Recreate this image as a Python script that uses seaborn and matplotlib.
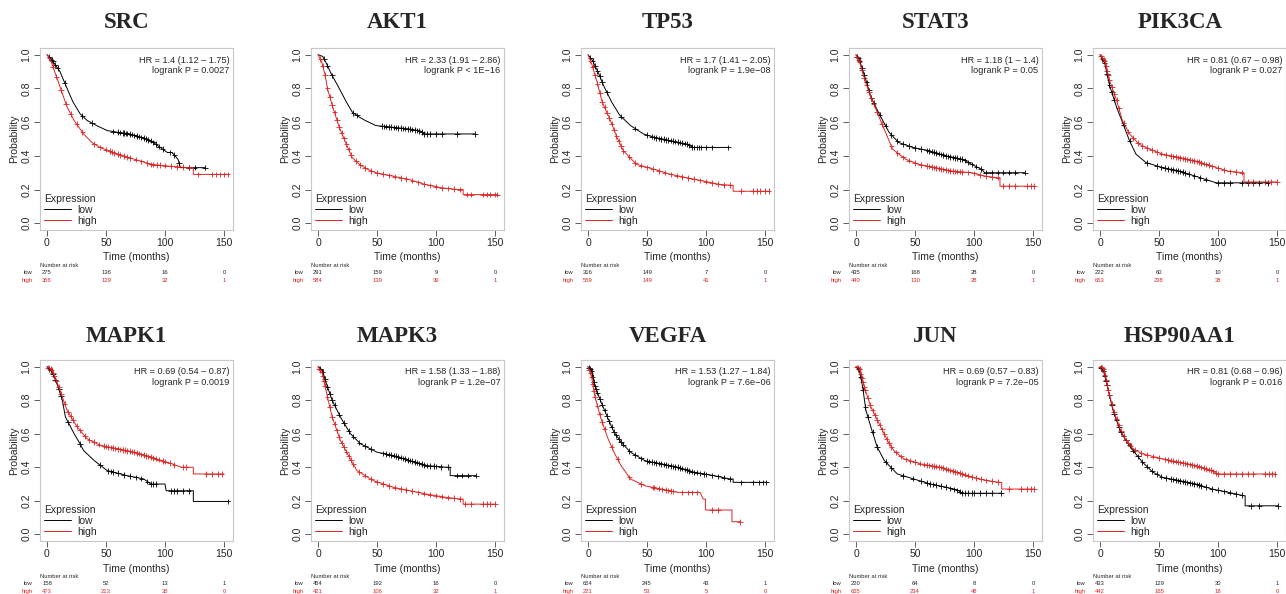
import numpy as np
import pandas as pd
import matplotlib
matplotlib.use("Agg")
import matplotlib.pyplot as plt
import seaborn as sns

genes = ["SRC", "AKT1", "TP53", "STAT3", "PIK3CA",
         "MAPK1", "MAPK3", "VEGFA", "JUN", "HSP90AA1"]
hr_labels = ["HR = 1.4 (1.12 \u2013 1.75)", "HR = 2.33 (1.91 \u2013 2.86)", "HR = 1.7 (1.41 \u2013 2.05)",
             "HR = 1.18 (1 \u2013 1.4)", "HR = 0.81 (0.67 \u2013 0.98)", "HR = 0.69 (0.54 \u2013 0.87)",
             "HR = 1.58 (1.33 \u2013 1.88)", "HR = 1.53 (1.27 \u2013 1.84)", "HR = 0.69 (0.57 \u2013 0.83)",
             "HR = 0.81 (0.68 \u2013 0.96)"]
p_labels = ["logrank P = 0.0027", "logrank P < 1E\u221216", "logrank P = 1.9e\u221208",
            "logrank P = 0.05", "logrank P = 0.027", "logrank P = 0.0019",
            "logrank P = 1.2e\u221207", "logrank P = 7.6e\u221206", "logrank P = 7.2e\u221205",
            "logrank P = 0.016"]
risk_times = [0, 50, 100, 150]
risk_low = [[275, 136, 16, 0], [291, 159, 9, 0], [316, 149, 7, 0], [435, 168, 28, 0], [222, 60, 10, 0],
            [158, 52, 13, 1], [454, 192, 16, 0], [654, 245, 43, 1], [220, 64, 8, 0], [433, 129, 30, 1]]
risk_high = [[356, 129, 32, 1], [584, 139, 39, 1], [559, 149, 41, 1], [440, 130, 28, 1], [653, 238, 38, 1],
             [473, 213, 35, 0], [421, 106, 32, 1], [221, 53, 5, 0], [655, 234, 48, 1], [442, 165, 18, 0]]

# survival curves (time in months, probability) and censoring times
src_low_t = [0, 3, 6, 11, 17, 22, 28, 34, 42, 51, 60, 70, 80, 88, 94, 102, 106, 111, 113, 134]
src_low_p = [1, 0.98, 0.95, 0.90, 0.80, 0.72, 0.65, 0.61, 0.58, 0.55, 0.54, 0.53, 0.51, 0.49, 0.46, 0.42, 0.42, 0.38, 0.33, 0.33]
src_low_c = [2, 4, 5, 7, 9, 15, 30, 38, 56, 60, 62, 64, 65, 67, 68, 70, 72, 74, 76, 78, 80, 82, 84, 86, 88, 90, 92, 95, 98, 104, 108, 112, 120, 125, 134]
src_high_t = [0, 3, 6, 11, 17, 23, 31, 38, 45, 60, 74, 88, 102, 119, 124, 124, 153]
src_high_p = [1, 0.97, 0.91, 0.81, 0.69, 0.61, 0.53, 0.48, 0.45, 0.41, 0.38, 0.35, 0.34, 0.33, 0.33, 0.29, 0.29]
src_high_c = [2, 5, 8, 12, 16, 20, 25, 30, 40, 45, 50, 53, 55, 57, 60, 62, 65, 68, 70, 75, 80, 85, 88, 90, 93, 96, 100, 105, 110, 115, 120, 128, 140, 143, 147, 150, 153]

akt1_low_t = [0, 4, 7, 11, 18, 24, 29, 35, 40, 49, 55, 63, 77, 85, 88, 90, 133]
akt1_low_p = [1, 0.99, 0.95, 0.89, 0.80, 0.72, 0.66, 0.63, 0.61, 0.58, 0.575, 0.57, 0.56, 0.55, 0.54, 0.53, 0.53]
akt1_low_c = [5, 8, 12, 30, 33, 54, 56, 58, 60, 62, 64, 66, 68, 70, 72, 74, 76, 78, 80, 82, 84, 86, 88, 90, 92, 95, 100, 105, 118, 133]
akt1_high_t = [0, 3, 6, 8, 12.5, 18, 24, 29, 35, 42, 49, 63, 77, 91, 105, 119, 123, 123, 152]
akt1_high_p = [1, 0.96, 0.88, 0.80, 0.69, 0.57, 0.47, 0.39, 0.35, 0.32, 0.30, 0.28, 0.26, 0.23, 0.21, 0.20, 0.20, 0.17, 0.17]
akt1_high_c = [2, 4, 6, 8, 10, 12, 14, 16, 18, 20, 22, 24, 26, 28, 32, 36, 40, 45, 50, 55, 60, 65, 70, 75, 80, 85, 90, 95, 100, 105, 110, 115, 120, 126, 130, 140, 143, 146, 150, 152]

tp53_low_t = [0, 3.4, 9, 13, 20, 27, 36, 47, 56, 70, 84, 89, 92, 119]
tp53_low_p = [1, 0.97, 0.89, 0.82, 0.72, 0.64, 0.58, 0.53, 0.51, 0.49, 0.47, 0.45, 0.45, 0.45]
tp53_low_c = [2, 4, 6, 8, 10, 12, 16, 28, 40, 50, 54, 56, 58, 60, 62, 64, 66, 68, 70, 72, 74, 76, 78, 80, 82, 84, 86, 88, 90, 92, 94, 96, 100, 105, 119]
tp53_high_t = [0, 3.4, 7.6, 12, 19, 24.5, 30, 41, 56, 70, 84, 98, 112, 122, 123, 123, 153]
tp53_high_p = [1, 0.94, 0.84, 0.72, 0.61, 0.51, 0.43, 0.35, 0.32, 0.29, 0.27, 0.25, 0.23, 0.225, 0.225, 0.19, 0.19]
tp53_high_c = [2, 4, 6, 8, 10, 12, 14, 16, 18, 20, 22, 24, 26, 28, 30, 35, 40, 45, 50, 55, 60, 65, 70, 75, 80, 85, 90, 95, 100, 105, 110, 115, 120, 130, 140, 143, 146, 150, 153]

stat3_low_t = [0, 2.8, 8.4, 12.6, 19.6, 28, 36, 48, 62, 76, 90, 98, 106.5, 109, 143]
stat3_low_p = [1, 0.97, 0.85, 0.75, 0.65, 0.54, 0.48, 0.45, 0.43, 0.40, 0.38, 0.35, 0.32, 0.30, 0.30]
stat3_low_c = [1, 2, 3, 5, 7, 9, 11, 13, 15, 20, 25, 30, 35, 40, 45, 50, 55, 60, 62, 64, 66, 68, 70, 72, 74, 76, 78, 80, 82, 84, 86, 88, 90, 92, 95, 98, 102, 106, 110, 115, 120, 125, 130, 135, 143]
stat3_high_t = [0, 2.8, 8.4, 12.6, 19.6, 28, 31, 42, 53, 67, 81, 98, 109, 120.5, 122, 122, 151]
stat3_high_p = [1, 0.96, 0.83, 0.75, 0.63, 0.49, 0.44, 0.38, 0.35, 0.33, 0.31, 0.30, 0.28, 0.27, 0.27, 0.22, 0.22]
stat3_high_c = [1, 2, 3, 5, 7, 9, 11, 13, 15, 18, 22, 30, 35, 40, 45, 50, 55, 60, 62, 64, 66, 68, 70, 72, 74, 76, 78, 80, 82, 84, 86, 88, 90, 95, 100, 105, 110, 115, 120, 125, 130, 135, 145, 148, 151]

pik3ca_low_t = [0, 4, 8, 14, 19, 25, 30.5, 39, 53, 67, 80.5, 94, 98.6, 142]
pik3ca_low_p = [1, 0.95, 0.82, 0.69, 0.60, 0.49, 0.41, 0.36, 0.33, 0.31, 0.28, 0.25, 0.24, 0.24]
pik3ca_low_c = [2, 4, 6, 8, 10, 12, 20, 25, 40, 48, 52, 55, 58, 60, 62, 64, 66, 68, 70, 72, 75, 80, 85, 90, 100, 105, 110, 120, 125, 130, 135, 142]
pik3ca_high_t = [0, 4, 8, 14, 19, 25, 33, 42, 53, 67, 80.5, 94, 108, 121, 122, 122, 150]
pik3ca_high_p = [1, 0.96, 0.85, 0.73, 0.61, 0.53, 0.47, 0.44, 0.41, 0.39, 0.37, 0.34, 0.31, 0.30, 0.30, 0.245, 0.245]
pik3ca_high_c = [1, 2, 3, 4, 5, 6, 7, 8, 10, 12, 14, 16, 20, 24, 28, 32, 36, 40, 44, 48, 52, 56, 60, 62, 64, 66, 68, 70, 72, 74, 76, 78, 80, 82, 84, 86, 88, 90, 92, 95, 100, 105, 110, 115, 120, 125, 130, 140, 145, 150]

mapk1_low_t = [0, 4, 8.5, 13, 15.6, 23, 28, 31, 40, 51, 68, 82, 88, 100, 101, 124, 124, 153]
mapk1_low_p = [1, 0.97, 0.90, 0.80, 0.70, 0.60, 0.54, 0.50, 0.44, 0.38, 0.35, 0.33, 0.30, 0.30, 0.26, 0.26, 0.196, 0.196]
mapk1_low_c = [2, 3, 5, 7, 10, 12, 18, 28, 45, 52, 54, 56, 60, 65, 70, 75, 80, 85, 88, 90, 92, 105, 108, 110, 115, 120, 153]
mapk1_high_t = [0, 4, 10, 17, 25.6, 34, 45.5, 60, 74, 88, 102, 114, 124, 124, 150]
mapk1_high_p = [1, 0.98, 0.88, 0.74, 0.64, 0.57, 0.53, 0.51, 0.49, 0.46, 0.43, 0.40, 0.40, 0.36, 0.36]
mapk1_high_c = [1, 2, 3, 4, 5, 6, 8, 10, 12, 15, 18, 20, 22, 25, 28, 32, 36, 40, 44, 48, 50, 52, 54, 56, 58, 60, 62, 64, 66, 68, 70, 72, 74, 76, 78, 80, 82, 84, 86, 88, 90, 92, 95, 98, 100, 104, 108, 115, 118, 135, 140, 145, 148]

mapk3_low_t = [0, 3.6, 8, 12, 19, 27.5, 36, 50, 64, 78, 92, 109, 112, 112, 134]
mapk3_low_p = [1, 0.98, 0.88, 0.80, 0.70, 0.60, 0.54, 0.49, 0.47, 0.44, 0.41, 0.40, 0.40, 0.35, 0.35]
mapk3_low_c = [2, 4, 6, 8, 10, 12, 14, 18, 22, 26, 30, 35, 40, 45, 55, 58, 60, 62, 64, 66, 68, 70, 72, 74, 76, 78, 80, 82, 84, 86, 88, 90, 92, 95, 98, 100, 104, 110, 118, 122, 127, 134]
mapk3_high_t = [0, 3.6, 8, 12, 19, 25, 33, 47, 64, 78, 92, 109, 121, 123, 123, 151]
mapk3_high_p = [1, 0.96, 0.82, 0.70, 0.56, 0.48, 0.38, 0.32, 0.28, 0.26, 0.24, 0.22, 0.21, 0.21, 0.18, 0.18]
mapk3_high_c = [1, 2, 3, 4, 5, 6, 8, 10, 12, 14, 16, 18, 20, 22, 24, 26, 28, 30, 35, 40, 45, 50, 55, 60, 65, 70, 75, 80, 85, 90, 95, 100, 105, 110, 115, 120, 125, 130, 140, 143, 146, 150]

vegfa_low_t = [0, 2.8, 5.6, 11, 17, 22, 28, 36, 48, 62, 76, 90, 106.5, 120.5, 123, 123, 151]
vegfa_low_p = [1, 0.98, 0.89, 0.79, 0.69, 0.61, 0.55, 0.49, 0.44, 0.42, 0.40, 0.37, 0.35, 0.33, 0.33, 0.31, 0.31]
vegfa_low_c = [1, 2, 3, 4, 5, 6, 7, 8, 10, 12, 14, 16, 18, 20, 22, 24, 26, 28, 30, 35, 40, 45, 50, 52, 54, 56, 58, 60, 62, 64, 66, 68, 70, 72, 74, 76, 78, 80, 82, 84, 86, 88, 90, 92, 95, 98, 100, 105, 110, 115, 120, 130, 140, 145, 148, 151]
vegfa_high_t = [0, 2.8, 5.6, 11, 17, 22, 28, 36, 48, 62, 76, 95, 97.6, 99.5, 99.5, 122, 122, 129]
vegfa_high_p = [1, 0.95, 0.83, 0.69, 0.57, 0.49, 0.41, 0.33, 0.29, 0.27, 0.25, 0.25, 0.21, 0.21, 0.145, 0.145, 0.075, 0.075]
vegfa_high_c = [1, 2, 3, 4, 5, 6, 8, 10, 12, 14, 20, 25, 35, 45, 55, 56, 60, 63, 66, 68, 70, 72, 80, 85, 88, 92, 105, 110, 129]

jun_low_t = [0, 2.8, 5.6, 8.4, 12.6, 18, 24, 35, 49, 63, 77, 87, 90, 123]
jun_low_p = [1, 0.98, 0.88, 0.74, 0.64, 0.52, 0.44, 0.36, 0.33, 0.30, 0.28, 0.26, 0.245, 0.245]
jun_low_c = [2, 4, 6, 8, 10, 14, 18, 25, 30, 40, 48, 55, 60, 63, 65, 68, 72, 76, 80, 83, 86, 88, 90, 92, 95, 98, 100, 105, 110, 115, 123]
jun_high_t = [0, 2.8, 7, 12.6, 21, 26.6, 32, 40.6, 55, 71.5, 85.5, 99.5, 111, 122, 123.5, 123.5, 151]
jun_high_p = [1, 0.99, 0.88, 0.76, 0.64, 0.56, 0.50, 0.45, 0.42, 0.40, 0.37, 0.34, 0.32, 0.31, 0.31, 0.27, 0.27]
jun_high_c = [1, 2, 3, 4, 5, 6, 7, 8, 10, 12, 14, 16, 18, 20, 22, 24, 26, 28, 30, 34, 38, 42, 46, 50, 54, 58, 60, 62, 64, 66, 68, 70, 72, 74, 76, 78, 80, 82, 84, 86, 88, 90, 92, 95, 98, 102, 106, 110, 115, 120, 130, 140, 145, 148, 151]

hsp_low_t = [0, 2.8, 7, 11, 17, 22, 28, 36, 45, 53, 67, 81, 95, 109, 122, 123, 123, 151]
hsp_low_p = [1, 0.98, 0.86, 0.74, 0.62, 0.56, 0.50, 0.43, 0.37, 0.34, 0.32, 0.30, 0.27, 0.25, 0.23, 0.23, 0.17, 0.17]
hsp_low_c = [1, 2, 3, 4, 5, 6, 8, 10, 12, 14, 16, 18, 20, 22, 25, 28, 32, 36, 40, 44, 48, 52, 56, 60, 62, 64, 66, 68, 70, 72, 74, 76, 78, 80, 82, 84, 86, 90, 95, 100, 105, 110, 115, 120, 128, 135, 151]
hsp_high_t = [0, 2.8, 7, 11, 17, 22, 28, 36, 53, 67, 81, 95, 99.5, 148.6]
hsp_high_p = [1, 0.99, 0.86, 0.75, 0.63, 0.56, 0.51, 0.48, 0.45, 0.43, 0.41, 0.38, 0.36, 0.36]
hsp_high_c = [1, 2, 3, 4, 5, 6, 7, 8, 10, 12, 14, 16, 18, 20, 22, 24, 26, 30, 35, 40, 45, 50, 55, 58, 60, 62, 64, 66, 68, 70, 72, 74, 76, 78, 80, 82, 84, 86, 88, 90, 92, 94, 96, 98, 100, 105, 110, 115, 120, 125, 130, 140, 143, 146, 148]

curves = [
    (src_low_t, src_low_p, src_low_c, src_high_t, src_high_p, src_high_c),
    (akt1_low_t, akt1_low_p, akt1_low_c, akt1_high_t, akt1_high_p, akt1_high_c),
    (tp53_low_t, tp53_low_p, tp53_low_c, tp53_high_t, tp53_high_p, tp53_high_c),
    (stat3_low_t, stat3_low_p, stat3_low_c, stat3_high_t, stat3_high_p, stat3_high_c),
    (pik3ca_low_t, pik3ca_low_p, pik3ca_low_c, pik3ca_high_t, pik3ca_high_p, pik3ca_high_c),
    (mapk1_low_t, mapk1_low_p, mapk1_low_c, mapk1_high_t, mapk1_high_p, mapk1_high_c),
    (mapk3_low_t, mapk3_low_p, mapk3_low_c, mapk3_high_t, mapk3_high_p, mapk3_high_c),
    (vegfa_low_t, vegfa_low_p, vegfa_low_c, vegfa_high_t, vegfa_high_p, vegfa_high_c),
    (jun_low_t, jun_low_p, jun_low_c, jun_high_t, jun_high_p, jun_high_c),
    (hsp_low_t, hsp_low_p, hsp_low_c, hsp_high_t, hsp_high_p, hsp_high_c),
]

sns.set_style("white")
plt.rcParams["font.family"] = ["Liberation Sans", "DejaVu Sans"]

RED = "#e02424"
pal = {"low": "black", "high": RED}

W, H = 1286, 594
fig = plt.figure(figsize=(W / 100, H / 100), dpi=100)

col_x0 = [47, 318, 588, 856, 1100]   # pixel position of time 0
row_top = [48, 360]
row_h = [182, 181]
title_y = [22, 336]
xscale = 177 / 150

for i, gene in enumerate(genes):
    r, c = divmod(i, 5)
    left = col_x0[c] - 6 * xscale
    width = 164 * xscale
    ax = fig.add_axes([left / W, 1 - (row_top[r] + row_h[r]) / H, width / W, row_h[r] / H])

    lt, lp, lc, ht, hp, hc = curves[i]
    df = pd.concat([
        pd.DataFrame({"time": lt, "prob": lp, "Expression": "low"}),
        pd.DataFrame({"time": ht, "prob": hp, "Expression": "high"}),
    ], ignore_index=True)
    cens = pd.concat([
        pd.DataFrame({"time": lc, "prob": np.interp(lc, lt, lp), "Expression": "low"}),
        pd.DataFrame({"time": hc, "prob": np.interp(hc, ht, hp), "Expression": "high"}),
    ], ignore_index=True)

    sns.lineplot(data=df, x="time", y="prob", hue="Expression", palette=pal,
                 estimator=None, sort=False, linewidth=0.7, ax=ax)
    sns.scatterplot(data=cens, x="time", y="prob", hue="Expression", palette=pal,
                    marker="+", s=16, linewidth=0.6, legend=False, ax=ax)

    ax.set_xlim(-6, 158)
    ax.set_ylim(-0.04, 1.04)
    ax.set_xticks([0, 50, 100, 150])
    ax.set_yticks([0, 0.2, 0.4, 0.6, 0.8, 1.0])
    ax.set_yticklabels(["0.0", "0.2", "0.4", "0.6", "0.8", "1.0"], rotation=90, va="center")
    ax.tick_params(axis="both", length=4, width=0.6, color="#444444", labelsize=7.5, pad=2,
                   bottom=True, left=True)
    for sp in ax.spines.values():
        sp.set_color("#c8c8c8")
        sp.set_linewidth(0.8)
    ax.set_xlabel("Time (months)", fontsize=7.5, labelpad=3)
    ax.set_ylabel("Probability", fontsize=7.5, labelpad=2)

    handles, labels = ax.get_legend_handles_labels()
    leg = ax.legend(handles, labels, title="Expression", loc="lower left", frameon=False,
                    fontsize=7.5, title_fontsize=7.5, handlelength=2.6, handletextpad=0.6,
                    labelspacing=0.1, borderaxespad=0.2, borderpad=0.2)
    leg._legend_box.align = "left"
    for h in leg.get_lines():
        h.set_linewidth(0.7)

    ax.text(0.98, 0.934, hr_labels[i], transform=ax.transAxes, ha="right", va="center", fontsize=6.6)
    ax.text(0.98, 0.874, p_labels[i], transform=ax.transAxes, ha="right", va="center", fontsize=6.6)

    tr = ax.get_xaxis_transform()
    ax.text(-6, -0.195, "Number at risk", transform=tr, ha="left", va="center", fontsize=4.2, clip_on=False)
    ax.text(-12, -0.236, "low", transform=tr, ha="right", va="center", fontsize=4.2, clip_on=False)
    ax.text(-12, -0.278, "high", transform=tr, ha="right", va="center", fontsize=4.2, color=RED, clip_on=False)
    for tx, nl, nh in zip(risk_times, risk_low[i], risk_high[i]):
        ax.text(tx, -0.236, str(nl), transform=tr, ha="center", va="center", fontsize=4.2, clip_on=False)
        ax.text(tx, -0.278, str(nh), transform=tr, ha="center", va="center", fontsize=4.2, color=RED, clip_on=False)

    fig.text((left + width / 2 - 10) / W, 1 - title_y[r] / H, gene, ha="center", va="center",
             fontsize=16.5, fontweight="bold", family=["Liberation Serif", "DejaVu Serif"])

fig.savefig("out.png", dpi=100)
